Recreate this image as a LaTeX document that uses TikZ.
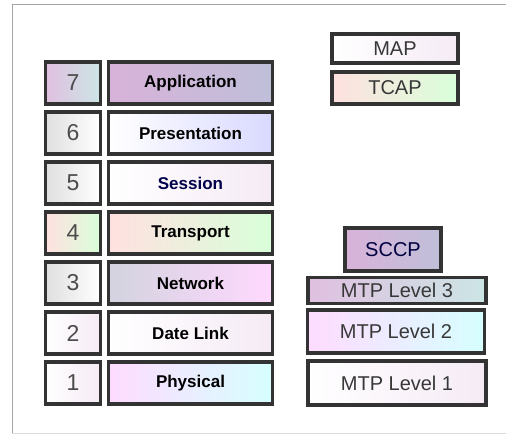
\documentclass[tikz,border=0pt]{standalone}
\usepackage{fontspec}
\setmainfont{Liberation Sans}
\begin{document}
\begin{tikzpicture}[x=1pt,y=-1pt,
  cell/.style={draw=black!80,line width=3.2pt,inner sep=0pt,outer sep=0pt,
    rectangle,shade,shading angle=0},
  numcell/.style={cell,minimum width=55pt,minimum height=42pt,
    font=\fontsize{23}{23}\selectfont,text=black!70},
  lblcell/.style={cell,minimum width=164pt,minimum height=42pt,
    font=\bfseries\fontsize{17}{17}\selectfont,text=black},
  sscell/.style={cell,font=\fontsize{20}{20}\selectfont,text=black!78},
  gA/.style={left color=violet!25!white,right color=teal!20!white},
  gB/.style={left color=white,right color=blue!15!white},
  gC/.style={left color=red!12!white,right color=green!15!white},
  gD/.style={left color=blue!15!gray!30!white,right color=magenta!15!white},
  gE/.style={left color=white,right color=white!92!violet},
  gF/.style={left color=magenta!14!white,right color=cyan!16!white},
  gG/.style={left color=gray!25!white,right color=white},
  gH/.style={left color=violet!30!white,right color=blue!25!gray!40!white},
]
\useasboundingbox (0,0) rectangle (506,436);
\fill[white] (0,0) rectangle (506,436);
\draw[gray!70,line width=1pt] (12,5) -- (506,5);
\draw[gray!70,line width=1pt] (12,5) -- (12,433);
\draw[gray!30,line width=1pt] (12,433) -- (506,433);

% OSI stack
\node[numcell,gA] (n7) at (73,83) {7};
\node[numcell,gG] (n6) at (73,133) {6};
\node[numcell,gG] (n5) at (73,183) {5};
\node[numcell,gC] (n4) at (73,233) {4};
\node[numcell,gG] (n3) at (73,283) {3};
\node[numcell,gE] (n2) at (73,333) {2};
\node[numcell,gE] (n1) at (73,383) {1};

\node[lblcell,gH] (l7) at (190.5,83) {Application};
\node[lblcell,gB] (l6) at (190.5,133) {Presentation};
\node[lblcell,gE,text=blue!30!black] (l5) at (190.5,183) {Session};
\node[lblcell,gC] (l4) at (190.5,233) {Transport};
\node[lblcell,gD] (l3) at (190.5,283) {Network};
\node[lblcell,gE] (l2) at (190.5,333) {Date Link};
\node[lblcell,gF] (l1) at (190.5,383) {Physical};

% SS7 stack
\node[sscell,gE,minimum width=126pt,minimum height=29pt] (map) at (395,48.5) {MAP};
\node[sscell,gC,minimum width=126pt,minimum height=32pt] (tcap) at (395,88) {TCAP};
\node[sscell,gH,minimum width=96pt,minimum height=43pt,text=blue!25!black] (sccp) at (393,249.5) {SCCP};
\node[sscell,gA,minimum width=178pt,minimum height=26pt] (mtp3) at (397,290.5) {MTP Level 3};
\node[sscell,gF,minimum width=177pt,minimum height=43pt] (mtp2) at (396,331.5) {MTP Level 2};
\node[sscell,gE,minimum width=178pt,minimum height=44pt] (mtp1) at (397,383) {MTP Level 1};
\end{tikzpicture}
\end{document}
